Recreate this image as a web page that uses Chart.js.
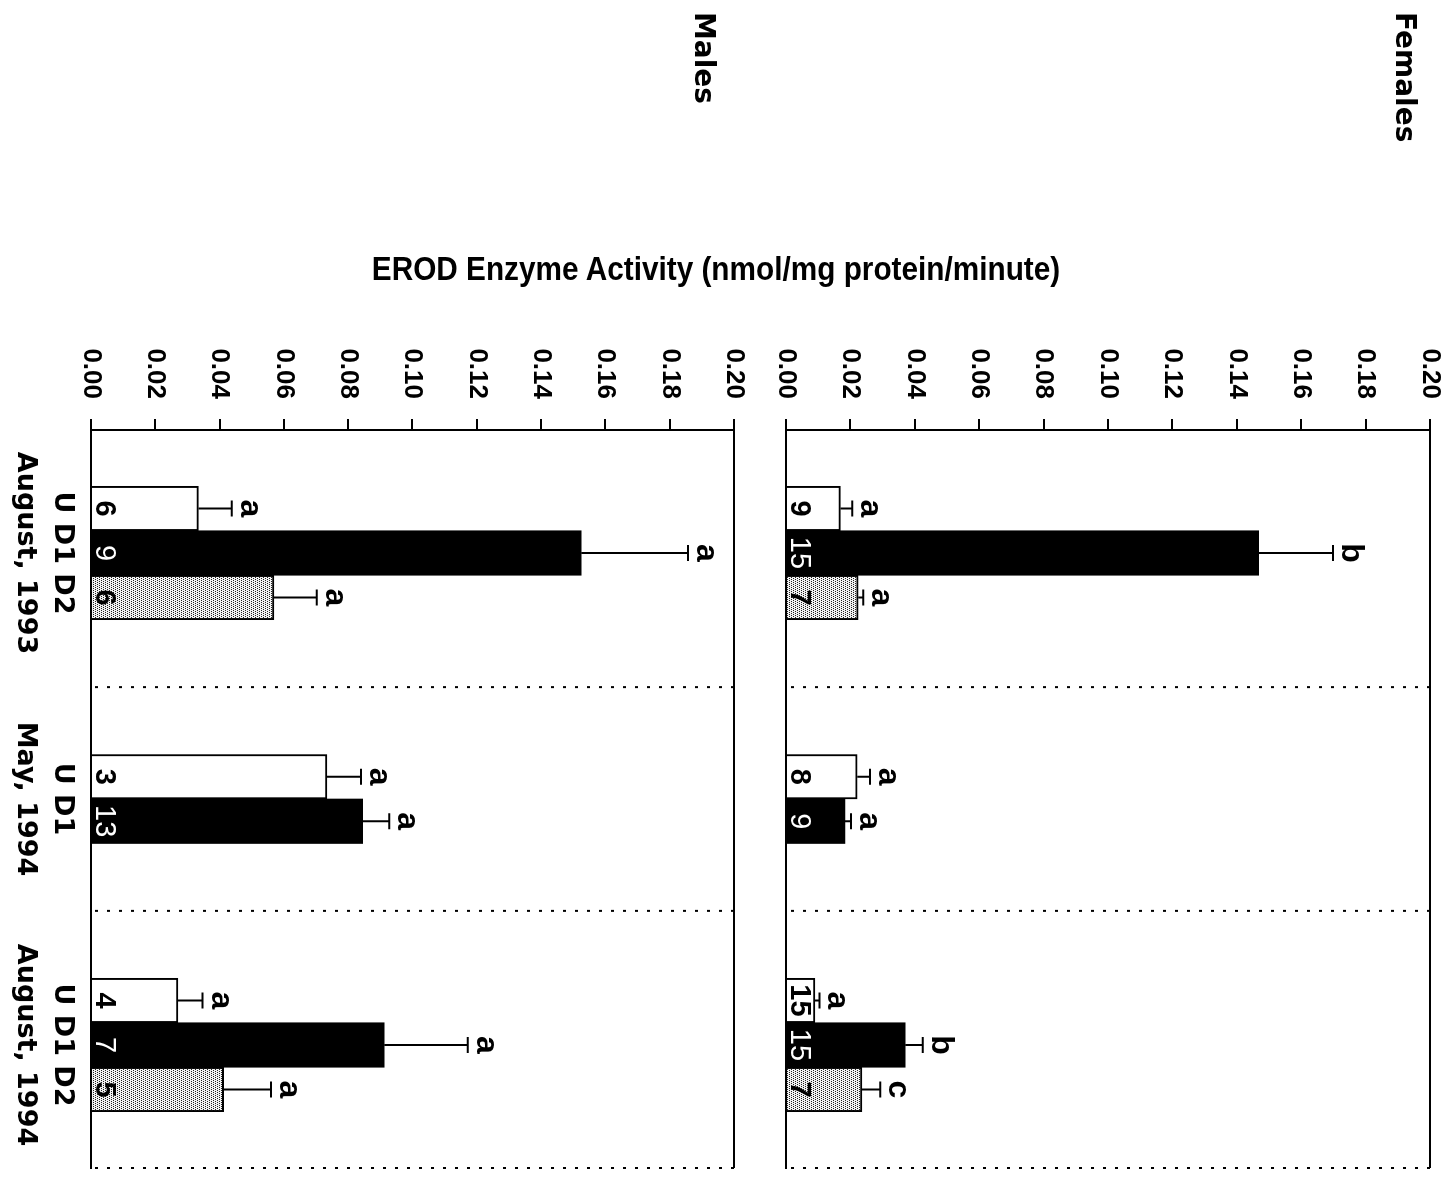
<!DOCTYPE html>
<html>
<head>
<meta charset="utf-8">
<script src="https://cdn.jsdelivr.net/npm/chart.js@4.4.1/dist/chart.umd.min.js"></script>
<style>
  html, body { margin: 0; padding: 0; background: #fff; overflow: hidden; }
  body { width: 1450px; height: 1185px; position: relative; }
  /* the figure is drawn upright and then turned a quarter turn clockwise */
  #fig { position: absolute; left: 0; top: 0; width: 1185px; height: 1450px;
         transform-origin: 0 0; transform: translateX(1450px) rotate(90deg); }
  #fig canvas { position: absolute; left: 0; }
  .lbl { position: absolute; font-family: "DejaVu Sans", sans-serif; font-weight: bold;
         font-size: 28px; line-height: 32px; color: #000; white-space: nowrap; }
  #ytitle { position: absolute; white-space: nowrap; font: bold 34px "Liberation Sans", Arial, sans-serif;
            line-height: 40px; color: #000; transform-origin: 50% 50%; }
</style>
</head>
<body>
<div id="fig">
  <canvas id="females" width="1185" height="700" style="top:0"></canvas>
  <canvas id="males" width="1185" height="750" style="top:700px"></canvas>
  <div class="lbl" style="left:12px; top:29px">Females</div>
  <div class="lbl" style="left:12px; top:730px">Males</div>
  <div id="ytitle">EROD Enzyme Activity (nmol/mg protein/minute)</div>
</div>
<script>
// sampling dates and sites
const groups = ['August, 1993', 'May, 1994', 'August, 1994'];
const groupSites = ['U D1 D2', 'U D1', 'U D1 D2'];
const yTicks = [0, 0.2, 0.02]; // min, max, step

// Females: mean EROD, standard error, sample size, letters
const femU = [0.0169, 0.0221, 0.0090];
const femD1 = [0.1468, 0.0183, 0.0370];
const femD2 = [0.0224, null, 0.0236];
const femUerr = [0.0037, 0.0040, 0.0014];
const femD1err = [0.0231, 0.0019, 0.0055];
const femD2err = [0.0016, null, 0.0057];
const femUn = [9, 8, 15];
const femD1n = [15, 9, 15];
const femD2n = [7, null, 7];
const femUlet = ['a', 'a', 'a'];
const femD1let = ['b', 'a', 'b'];
const femD2let = ['a', null, 'c'];

// Males
const malU = [0.0334, 0.0734, 0.0270];
const malD1 = [0.1525, 0.0845, 0.0912];
const malD2 = [0.0569, null, 0.0413];
const malUerr = [0.0104, 0.0106, 0.0077];
const malD1err = [0.0332, 0.0083, 0.0260];
const malD2err = [0.0133, null, 0.0147];
const malUn = [6, 3, 4];
const malD1n = [9, 13, 7];
const malD2n = [6, null, 5];
const malUlet = ['a', 'a', 'a'];
const malD1let = ['a', 'a', 'a'];
const malD2let = ['a', null, 'a'];

// stippled fill for D2
const pc = document.createElement('canvas');
pc.width = 4; pc.height = 4;
const pctx = pc.getContext('2d');
pctx.fillStyle = '#f2f2f2'; pctx.fillRect(0, 0, 4, 4);
pctx.fillStyle = '#222';
[[0, 0], [2, 0], [1, 2], [3, 2]].forEach(p => pctx.fillRect(p[0], p[1], 1, 1));
const stipple = pctx.createPattern(pc, 'repeat');

const numFontBold = 'bold 29px "Liberation Sans", Arial, sans-serif';
const numFontThin = '29px "Liberation Sans", Arial, sans-serif';

function makeSets(u, d1, d2, ue, d1e, d2e, un, d1n, d2n, ul, d1l, d2l) {
  return [
    { label: 'U', data: u, err: ue, n: un, letters: ul, nColor: '#000', nFont: numFontBold,
      backgroundColor: '#fff', borderColor: '#000', borderWidth: 2 },
    { label: 'D1', data: d1, err: d1e, n: d1n, letters: d1l, nColor: '#fff', nFont: numFontThin,
      backgroundColor: '#000', borderColor: '#000', borderWidth: 0 },
    { label: 'D2', data: d2, err: d2e, n: d2n, letters: d2l, nColor: '#000', nFont: numFontBold,
      backgroundColor: stipple, borderColor: '#000', borderWidth: 2 }
  ];
}

// error bars, significance letters, sample sizes, dotted separators
const extras = {
  id: 'extras',
  afterDatasetsDraw(chart) {
    const ctx = chart.ctx, ys = chart.scales.y, area = chart.chartArea;
    ctx.save();
    ctx.textAlign = 'center';
    ctx.textBaseline = 'alphabetic';
    const edges = groups.map(() => [Infinity, -Infinity]);
    chart.data.datasets.forEach((ds, di) => {
      const meta = chart.getDatasetMeta(di);
      meta.data.forEach((bar, i) => {
        const v = ds.data[i];
        if (v == null) return;
        edges[i][0] = Math.min(edges[i][0], bar.x - bar.width / 2);
        edges[i][1] = Math.max(edges[i][1], bar.x + bar.width / 2);
        const top = ys.getPixelForValue(v + ds.err[i]);
        ctx.strokeStyle = '#000';
        ctx.lineWidth = 2;
        ctx.setLineDash([]);
        ctx.beginPath();
        ctx.moveTo(bar.x, bar.y);
        ctx.lineTo(bar.x, top);
        ctx.moveTo(bar.x - 8, top);
        ctx.lineTo(bar.x + 8, top);
        ctx.stroke();
        ctx.fillStyle = '#000';
        ctx.font = 'bold 32px "Liberation Sans", Arial, sans-serif';
        ctx.fillText(ds.letters[i], bar.x, top - 9);
        ctx.font = ds.nFont;
        ctx.fillStyle = ds.nColor;
        ctx.fillText(String(ds.n[i]), bar.x, bar.base - 4);
      });
    });
    ctx.strokeStyle = '#000';
    ctx.lineWidth = 2;
    ctx.setLineDash([3, 9]);
    const xs = [];
    for (let i = 0; i < groups.length - 1; i++) xs.push((edges[i][1] + edges[i + 1][0]) / 2);
    xs.push(area.right);
    xs.forEach(x => {
      ctx.beginPath();
      ctx.moveTo(x, area.top);
      ctx.lineTo(x, area.bottom);
      ctx.stroke();
    });
    ctx.restore();
  }
};

function makeChart(id, datasets, padding, showLabels, xHeight) {
  return new Chart(document.getElementById(id), {
    type: 'bar',
    data: {
      labels: groups.map((g, i) => [groupSites[i], g]),
      datasets: datasets
    },
    options: {
      responsive: false,
      animation: false,
      layout: { padding: padding },
      datasets: { bar: { barThickness: 44.5, skipNull: true, grouped: true } },
      plugins: { legend: { display: false }, tooltip: { enabled: false } },
      scales: {
        x: {
          grid: { display: false, drawTicks: false },
          border: { display: true, color: '#000', width: 2 },
          ticks: {
            display: showLabels, padding: 10, maxRotation: 0, autoSkip: false, color: '#000',
            font: { family: '"DejaVu Sans", sans-serif', size: 27, weight: 'bold', lineHeight: 1.37 }
          },
          afterFit: s => { s.height = xHeight; }
        },
        y: {
          min: yTicks[0], max: yTicks[1],
          grid: {
            color: c => (c.tick && c.tick.value > 0.199) ? '#000' : 'rgba(0,0,0,0)',
            tickColor: '#000', lineWidth: 2, tickWidth: 2, tickLength: 11, drawTicks: true
          },
          border: { display: true, color: '#000', width: 2 },
          ticks: {
            stepSize: yTicks[2], padding: 20, color: '#000',
            font: { family: '"Liberation Sans", Arial, sans-serif', size: 26, weight: 'bold' },
            callback: v => Number(v).toFixed(2)
          },
          afterFit: s => { s.width = 430; s.paddingTop = 0; s.paddingBottom = 0; }
        }
      }
    },
    plugins: [extras]
  });
}

makeChart('females',
  makeSets(femU, femD1, femD2, femUerr, femD1err, femD2err, femUn, femD1n, femD2n, femUlet, femD1let, femD2let),
  { top: 20, right: 17, bottom: 36, left: 0 }, false, 0);
makeChart('males',
  makeSets(malU, malD1, malD2, malUerr, malD1err, malD2err, malUn, malD1n, malD2n, malUlet, malD1let, malD2let),
  { top: 16, right: 17, bottom: 0, left: 0 }, true, 91);

// shared axis title, squeezed to the width it has in the figure
const t = document.getElementById('ytitle');
const w = t.offsetWidth, h = t.offsetHeight;
t.style.left = (268 - w / 2) + 'px';
t.style.top = (734 - h / 2) + 'px';
t.style.transform = 'rotate(-90deg) scaleX(' + (688 / w) + ')';
</script>
</body>
</html>
